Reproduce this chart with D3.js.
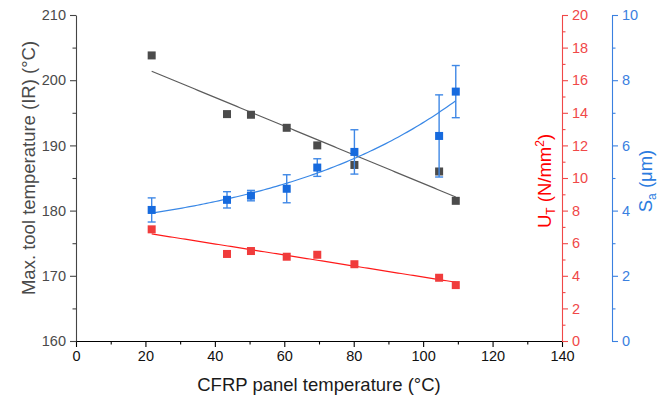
<!DOCTYPE html>
<html><head><meta charset="utf-8">
<script src="https://cdn.jsdelivr.net/npm/d3@7"></script>
<style>
html,body{margin:0;padding:0;background:#fff;}
svg{display:block;font-family:"Liberation Sans",Arial,sans-serif;}
</style></head>
<body><svg id="c" width="667" height="398"></svg>
<script>
// ---- data ----
const panelTemp = [21.8, 43.5, 50.4, 60.7, 69.5, 80.2, 104.6, 109.4];
const toolTemp  = [203.8, 194.8, 194.7, 192.7, 190.0, 187.0, 186.0, 181.5];
const utValues  = [6.85, 5.34, 5.52, 5.17, 5.29, 4.71, 3.88, 3.43];
const saValues  = [4.02, 4.33, 4.46, 4.67, 5.32, 5.80, 6.29, 7.65];
const saErrors  = [0.37, 0.25, 0.16, 0.43, 0.27, 0.68, 1.26, 0.80];
const xTicks = [0, 20, 40, 60, 80, 100, 120, 140];
const leftTicks = [160, 170, 180, 190, 200, 210];
const utTicks = [0, 2, 4, 6, 8, 10, 12, 14, 16, 18, 20];
const saTicks = [0, 2, 4, 6, 8, 10];

const svg = d3.select("#c");
const L = 76, R = 562, T = 15, B = 341;
const x = d3.scaleLinear([0, 140], [L, R]);
const yL = d3.scaleLinear([160, 210], [B, T]);
const yU = d3.scaleLinear([0, 20], [B, T]);
const yS = d3.scaleLinear([0, 10], [B, T]);
const blueX = 612;

const cGray = "#4b4b4b", cGrayLine = "#5c5c5c";
const cRed = "#f03c3c", cRedLine = "#ff1a1a", cRedAxis = "#f04848";
const cBlue = "#166ade", cBlueLine = "#3a88e6", cBlueAxis = "#3a80e0";

function styleAxis(g, color, textColor, fs) {
  g.selectAll("path,line").attr("stroke", color).attr("stroke-width", 1.1);
  g.selectAll("text").attr("fill", textColor).style("font-size", fs + "px")
   .style("font-family", '"Liberation Sans",Arial,sans-serif');
}

function minor(axisFn, scale, vals, tx, ty, color) {
  const g = svg.append("g").attr("transform", `translate(${tx},${ty})`)
    .call(axisFn(scale).tickValues(vals).tickSize(3.5).tickFormat(""));
  g.select(".domain").remove();
  g.selectAll("line").attr("stroke", color).attr("stroke-width", 1.1);
}

// X axis
minor(d3.axisBottom, x, d3.range(10, 140, 20), 0, B, "#000");
const gx = svg.append("g").attr("transform", `translate(0,${B})`)
  .call(d3.axisBottom(x).tickValues(xTicks).tickSize(6).tickPadding(4).tickSizeOuter(0));
styleAxis(gx, "#000", "#111", 14.5);

// Left axis
minor(d3.axisLeft, yL, d3.range(165, 210, 10), L, 0, "#444");
const gl = svg.append("g").attr("transform", `translate(${L},0)`)
  .call(d3.axisLeft(yL).tickValues(leftTicks).tickSize(6).tickPadding(4).tickSizeOuter(0));
styleAxis(gl, "#444", "#4a4a4a", 14.5);

// Red axis
minor(d3.axisRight, yU, d3.range(1, 20, 2), R, 0, cRedAxis);
const gr = svg.append("g").attr("transform", `translate(${R},0)`)
  .call(d3.axisRight(yU).tickValues(utTicks).tickSize(6).tickPadding(4).tickSizeOuter(0));
styleAxis(gr, cRedAxis, cRedAxis, 14.5);

// Blue axis
minor(d3.axisRight, yS, d3.range(1, 10, 2), blueX, 0, cBlueAxis);
const gb = svg.append("g").attr("transform", `translate(${blueX},0)`)
  .call(d3.axisRight(yS).tickValues(saTicks).tickSize(6).tickPadding(4).tickSizeOuter(0));
styleAxis(gb, cBlueAxis, cBlueAxis, 14.5);

// ---- fits computed from the data ----
function linFit(xs, ys) {
  const mx = d3.mean(xs), my = d3.mean(ys);
  let sxy = 0, sxx = 0;
  xs.forEach((v, i) => { sxy += (v - mx) * (ys[i] - my); sxx += (v - mx) ** 2; });
  const b = sxy / sxx; return t => my + b * (t - mx);
}
// weighted (1/err) fit of y = a + b*exp(k x), grid search on k
function expFit(xs, ys, errs) {
  const w = errs.map(e => 1 / e), W = d3.sum(w);
  let best = null;
  for (let k = 0.001; k < 0.1; k += 0.0002) {
    const fs = xs.map(v => Math.exp(k * v));
    const mf = d3.sum(fs, (f, i) => w[i] * f) / W, my = d3.sum(ys, (y, i) => w[i] * y) / W;
    let sfy = 0, sff = 0;
    fs.forEach((f, i) => { sfy += w[i] * (f - mf) * (ys[i] - my); sff += w[i] * (f - mf) ** 2; });
    const b = sfy / sff, a = my - b * mf;
    const sse = d3.sum(xs, (v, i) => w[i] * (a + b * Math.exp(k * v) - ys[i]) ** 2);
    if (!best || sse < best.sse) best = {a, b, k, sse};
  }
  return t => best.a + best.b * Math.exp(best.k * t);
}
const xMin = d3.min(panelTemp), xMax = d3.max(panelTemp);
const grid = d3.range(0, 101).map(i => xMin + (xMax - xMin) * i / 100);
const fG = linFit(panelTemp, toolTemp), fR = linFit(panelTemp, utValues), fB = expFit(panelTemp, saValues, saErrors);

const line = (fy, sy) => d3.line().x(d => x(d)).y(d => sy(fy(d)))(grid);
svg.append("path").attr("d", line(fG, yL)).attr("fill", "none").attr("stroke", cGrayLine).attr("stroke-width", 1.2);
svg.append("path").attr("d", line(fR, yU)).attr("fill", "none").attr("stroke", cRedLine).attr("stroke-width", 1.2);

const S = 8;
function squares(ys, sy, color) {
  svg.append("g").selectAll("rect").data(panelTemp).join("rect")
    .attr("x", (d) => x(d) - S / 2).attr("y", (d, i) => sy(ys[i]) - S / 2)
    .attr("width", S).attr("height", S).attr("fill", color);
}
squares(toolTemp, yL, cGray);
squares(utValues, yU, cRed);

const eb = svg.append("g").attr("stroke", "#3f88e6").attr("stroke-width", 1.4);
panelTemp.forEach((d, i) => {
  const cx = x(d), y1 = yS(saValues[i] - saErrors[i]), y2 = yS(saValues[i] + saErrors[i]);
  eb.append("line").attr("x1", cx).attr("x2", cx).attr("y1", y1).attr("y2", y2);
  eb.append("line").attr("x1", cx - 4).attr("x2", cx + 4).attr("y1", y1).attr("y2", y1);
  eb.append("line").attr("x1", cx - 4).attr("x2", cx + 4).attr("y1", y2).attr("y2", y2);
});
svg.append("path").attr("d", line(fB, yS)).attr("fill", "none").attr("stroke", cBlueLine).attr("stroke-width", 1.2);
squares(saValues, yS, cBlue);

// ---- titles ----
svg.append("text").attr("x", (L + R) / 2).attr("y", 391).attr("text-anchor", "middle")
  .style("font-size", "18.5px").attr("fill", "#1a1a1a").text("CFRP panel temperature (°C)");
svg.append("text").attr("transform", `translate(35,168) rotate(-90)`).attr("text-anchor", "middle")
  .style("font-size", "18.5px").attr("fill", "#4a4a4a").text("Max. tool temperature (IR) (°C)");

const tu = svg.append("text").attr("transform", `translate(551,181) rotate(-90)`).attr("text-anchor", "middle")
  .style("font-size", "18.5px").attr("fill", "#ff0000");
tu.append("tspan").text("U");
tu.append("tspan").attr("dy", 4).style("font-size", "12px").text("T");
tu.append("tspan").attr("dy", -4).text(" (N/mm");
tu.append("tspan").attr("dy", -7).style("font-size", "12px").text("2");
tu.append("tspan").attr("dy", 7).text(")");

const ts = svg.append("text").attr("transform", `translate(652,181) rotate(-90)`).attr("text-anchor", "middle")
  .style("font-size", "18.5px").attr("fill", "#2c7ce0");
ts.append("tspan").text("S");
ts.append("tspan").attr("dy", 4).style("font-size", "12px").text("a");
ts.append("tspan").attr("dy", -4).text(" (μm)");
</script></body></html>
